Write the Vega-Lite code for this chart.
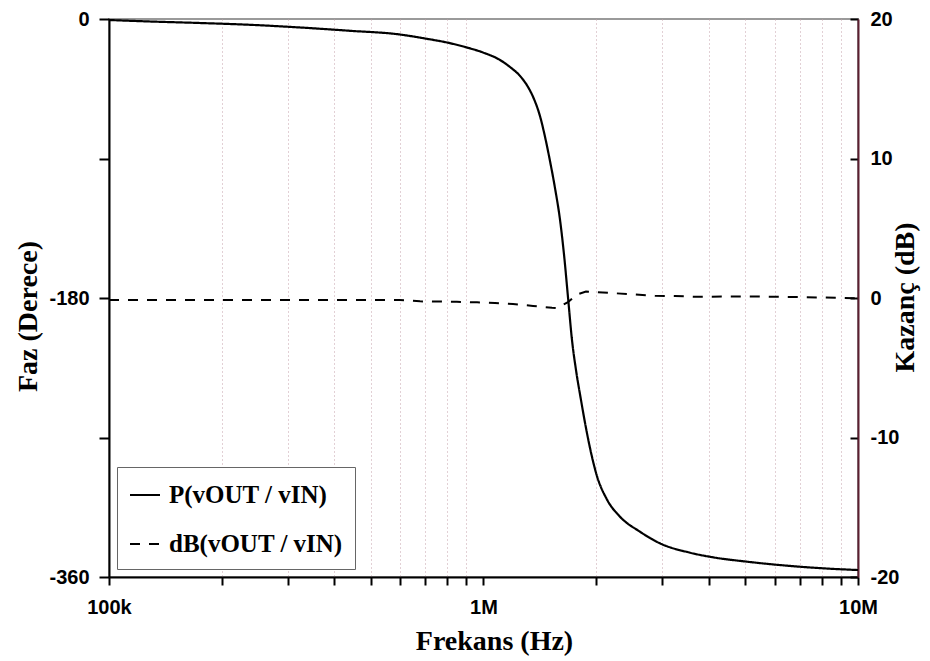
{
  "$schema": "https://vega.github.io/schema/vega-lite/v6.json",
  "autosize": {"type": "none"},
  "padding": {"left": 109, "top": 19, "right": 72, "bottom": 84},
  "width": 749,
  "height": 558,
  "background": "white",
  "config": {
    "view": {"stroke": "#9a9a9a", "strokeWidth": 2},
    "axis": {
      "labelFont": "Liberation Sans",
      "labelFontWeight": "bold",
      "labelFontSize": 20,
      "labelColor": "black",
      "titleFont": "Liberation Serif",
      "titleFontWeight": "bold",
      "titleFontSize": 28,
      "titleColor": "black",
      "domainColor": "black",
      "domainWidth": 2,
      "labelFlush": false,
      "labelOverlap": false
    },
    "legend": {
      "labelFont": "Liberation Serif",
      "labelFontWeight": "bold",
      "labelFontSize": 25,
      "labelColor": "black",
      "labelLimit": 500
    }
  },
  "data": {
    "values": [
      {"f": 100000, "v": -0.65, "s": "P(vOUT / vIN)"},
      {"f": 128700, "v": -1.61, "s": "P(vOUT / vIN)"},
      {"f": 175000, "v": -2.58, "s": "P(vOUT / vIN)"},
      {"f": 238000, "v": -3.74, "s": "P(vOUT / vIN)"},
      {"f": 324000, "v": -5.48, "s": "P(vOUT / vIN)"},
      {"f": 440000, "v": -7.61, "s": "P(vOUT / vIN)"},
      {"f": 598000, "v": -10.0, "s": "P(vOUT / vIN)"},
      {"f": 698000, "v": -12.58, "s": "P(vOUT / vIN)"},
      {"f": 799000, "v": -15.16, "s": "P(vOUT / vIN)"},
      {"f": 903000, "v": -18.39, "s": "P(vOUT / vIN)"},
      {"f": 996900, "v": -21.61, "s": "P(vOUT / vIN)"},
      {"f": 1107000, "v": -26.45, "s": "P(vOUT / vIN)"},
      {"f": 1177000, "v": -30.97, "s": "P(vOUT / vIN)"},
      {"f": 1252000, "v": -36.77, "s": "P(vOUT / vIN)"},
      {"f": 1315000, "v": -43.87, "s": "P(vOUT / vIN)"},
      {"f": 1364000, "v": -51.61, "s": "P(vOUT / vIN)"},
      {"f": 1415000, "v": -62.58, "s": "P(vOUT / vIN)"},
      {"f": 1460000, "v": -76.13, "s": "P(vOUT / vIN)"},
      {"f": 1505000, "v": -91.61, "s": "P(vOUT / vIN)"},
      {"f": 1552000, "v": -109.03, "s": "P(vOUT / vIN)"},
      {"f": 1601000, "v": -129.68, "s": "P(vOUT / vIN)"},
      {"f": 1641000, "v": -152.26, "s": "P(vOUT / vIN)"},
      {"f": 1682000, "v": -180.0, "s": "P(vOUT / vIN)"},
      {"f": 1723000, "v": -207.1, "s": "P(vOUT / vIN)"},
      {"f": 1766000, "v": -226.45, "s": "P(vOUT / vIN)"},
      {"f": 1821000, "v": -245.8, "s": "P(vOUT / vIN)"},
      {"f": 1878000, "v": -263.9, "s": "P(vOUT / vIN)"},
      {"f": 1925000, "v": -276.8, "s": "P(vOUT / vIN)"},
      {"f": 2005000, "v": -294.2, "s": "P(vOUT / vIN)"},
      {"f": 2133000, "v": -309.7, "s": "P(vOUT / vIN)"},
      {"f": 2315000, "v": -321.1, "s": "P(vOUT / vIN)"},
      {"f": 2618000, "v": -330.8, "s": "P(vOUT / vIN)"},
      {"f": 2960000, "v": -338.3, "s": "P(vOUT / vIN)"},
      {"f": 3558000, "v": -344.3, "s": "P(vOUT / vIN)"},
      {"f": 4101000, "v": -347.3, "s": "P(vOUT / vIN)"},
      {"f": 5045000, "v": -350.1, "s": "P(vOUT / vIN)"},
      {"f": 6190000, "v": -352.3, "s": "P(vOUT / vIN)"},
      {"f": 8063000, "v": -354.4, "s": "P(vOUT / vIN)"},
      {"f": 10000000, "v": -355.5, "s": "P(vOUT / vIN)"},
      {"f": 100000, "v": -0.14, "s": "dB(vOUT / vIN)"},
      {"f": 598000, "v": -0.14, "s": "dB(vOUT / vIN)"},
      {"f": 677000, "v": -0.24, "s": "dB(vOUT / vIN)"},
      {"f": 849000, "v": -0.27, "s": "dB(vOUT / vIN)"},
      {"f": 961000, "v": -0.31, "s": "dB(vOUT / vIN)"},
      {"f": 1073000, "v": -0.36, "s": "dB(vOUT / vIN)"},
      {"f": 1199000, "v": -0.43, "s": "dB(vOUT / vIN)"},
      {"f": 1356000, "v": -0.57, "s": "dB(vOUT / vIN)"},
      {"f": 1524000, "v": -0.70, "s": "dB(vOUT / vIN)"},
      {"f": 1572000, "v": -0.72, "s": "dB(vOUT / vIN)"},
      {"f": 1681000, "v": -0.29, "s": "dB(vOUT / vIN)"},
      {"f": 1777000, "v": 0.25, "s": "dB(vOUT / vIN)"},
      {"f": 1878000, "v": 0.47, "s": "dB(vOUT / vIN)"},
      {"f": 2177000, "v": 0.36, "s": "dB(vOUT / vIN)"},
      {"f": 2487000, "v": 0.27, "s": "dB(vOUT / vIN)"},
      {"f": 2871000, "v": 0.16, "s": "dB(vOUT / vIN)"},
      {"f": 3246000, "v": 0.14, "s": "dB(vOUT / vIN)"},
      {"f": 3670000, "v": 0.09, "s": "dB(vOUT / vIN)"},
      {"f": 5147000, "v": 0.11, "s": "dB(vOUT / vIN)"},
      {"f": 7000000, "v": 0.07, "s": "dB(vOUT / vIN)"},
      {"f": 10000000, "v": -0.02, "s": "dB(vOUT / vIN)"}
    ]
  },
  "encoding": {
    "x": {
      "field": "f",
      "type": "quantitative",
      "scale": {"type": "log", "domain": [100000, 10000000], "nice": false},
      "axis": {
        "title": "Frekans (Hz)",
        "titleX": 385,
        "titleY": 64,
        "titleBaseline": "middle",
        "titleAlign": "center",
        "values": [100000, 200000, 300000, 400000, 500000, 600000, 700000, 800000, 900000, 1000000, 2000000, 3000000, 4000000, 5000000, 6000000, 7000000, 8000000, 9000000, 10000000],
        "labelExpr": "datum.value == 100000 ? '100k' : datum.value == 1000000 ? '1M' : datum.value == 10000000 ? '10M' : ''",
        "labelFontWeight": "bold",
        "grid": true,
        "gridColor": "#c4a0aa",
        "gridDash": [1, 3],
        "gridWidth": 1,
        "gridOpacity": {"condition": {"test": "datum.value == 100000 || datum.value == 1000000 || datum.value == 10000000", "value": 0}, "value": 1},
        "ticks": true,
        "tickColor": "#000000",
        "tickSize": 8,
        "tickWidth": 2,
        "labelPadding": 12
      }
    }
  },
  "layer": [
    {
      "transform": [{"filter": "datum.s == 'P(vOUT / vIN)'"}],
      "mark": {"type": "line", "color": "black", "strokeWidth": 2.2, "clip": true, "interpolate": "monotone"},
      "encoding": {
        "y": {
          "field": "v",
          "type": "quantitative",
          "scale": {"domain": [-360, 0], "nice": false, "zero": false},
          "axis": {
            "orient": "left",
            "title": "Faz (Derece)",
            "titleAngle": -90,
            "titleX": -81,
            "titleY": 297,
            "titleAlign": "center",
            "titleBaseline": "middle",
            "values": [0, -90, -180, -270, -360],
            "labelExpr": "datum.value % 180 == 0 ? toString(datum.value) : ''",
            "labelFontWeight": "bold",
            "grid": false,
            "ticks": true,
            "tickColor": "#000000",
            "tickSize": 10,
            "tickWidth": 2,
            "labelPadding": 10
          }
        },
        "strokeDash": {
          "field": "s",
          "type": "nominal",
          "scale": {"domain": ["P(vOUT / vIN)", "dB(vOUT / vIN)"], "range": [[1, 0], [10, 9]]},
          "legend": {
            "title": null,
            "orient": "bottom-left",
            "offset": 8,
            "strokeColor": "#666666",
            "fillColor": "white",
            "padding": 12,
            "symbolType": "stroke",
            "symbolSize": 900,
            "symbolStrokeWidth": 2,
            "symbolStrokeColor": "black",
            "rowPadding": 20,
            "labelOffset": 8
          }
        }
      }
    },
    {
      "transform": [{"filter": "datum.s == 'dB(vOUT / vIN)'"}],
      "mark": {"type": "line", "color": "black", "strokeWidth": 2, "clip": true},
      "encoding": {
        "y": {
          "field": "v",
          "type": "quantitative",
          "scale": {"domain": [-20, 20], "nice": false, "zero": false},
          "axis": {
            "orient": "right",
            "title": "Kazanç (dB)",
            "titleAngle": -90,
            "titleX": 47,
            "titleY": 278,
            "titleAlign": "center",
            "titleBaseline": "middle",
            "values": [-20, -10, 0, 10, 20],
            "labelExpr": "toString(datum.value)",
            "labelFontWeight": "bold",
            "grid": false,
            "domainColor": "#5c1f30",
            "ticks": true,
            "tickColor": "#000000",
            "tickSize": -8,
            "tickWidth": 2,
            "labelPadding": 20
          }
        },
        "strokeDash": {"field": "s", "type": "nominal"}
      }
    }
  ],
  "resolve": {"scale": {"y": "independent"}}
}
